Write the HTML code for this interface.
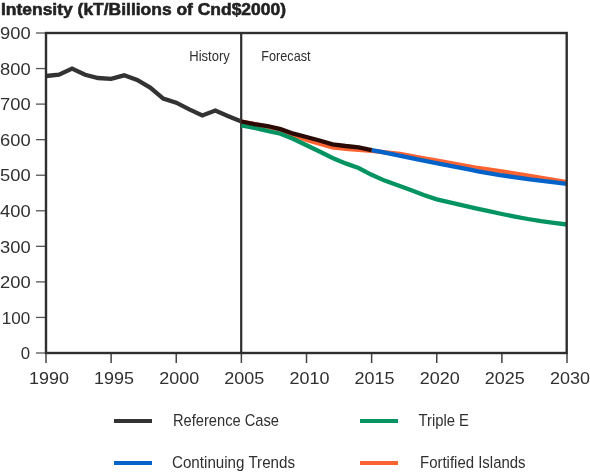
<!DOCTYPE html>
<html><head><meta charset="utf-8">
<style>
html,body{margin:0;padding:0;background:#fff;}
body{width:590px;height:473px;overflow:hidden;}
svg{display:block;will-change:transform;}
text{font-family:"Liberation Sans",sans-serif;fill:#2b2b2b;}
.lt1,.lt text{fill:#303030;}
</style></head><body>
<svg width="590" height="473" viewBox="0 0 590 473">
<text x="1" y="14.75" font-size="16.3" font-weight="bold" textLength="285" lengthAdjust="spacingAndGlyphs" style="fill:#222;stroke:#222;stroke-width:0.55">Intensity (kT/Billions of Cnd$2000)</text>
<g stroke="#555555" stroke-width="1.3"><line x1="36" y1="353.00" x2="46" y2="353.00"/><line x1="36" y1="317.44" x2="46" y2="317.44"/><line x1="36" y1="281.89" x2="46" y2="281.89"/><line x1="36" y1="246.33" x2="46" y2="246.33"/><line x1="36" y1="210.78" x2="46" y2="210.78"/><line x1="36" y1="175.22" x2="46" y2="175.22"/><line x1="36" y1="139.67" x2="46" y2="139.67"/><line x1="36" y1="104.11" x2="46" y2="104.11"/><line x1="36" y1="68.56" x2="46" y2="68.56"/><line x1="36" y1="33.00" x2="46" y2="33.00"/><line x1="46.00" y1="353" x2="46.00" y2="363" stroke="#444" stroke-width="1.5"/><line x1="111.12" y1="353" x2="111.12" y2="363" stroke="#444" stroke-width="1.5"/><line x1="176.25" y1="353" x2="176.25" y2="363" stroke="#444" stroke-width="1.5"/><line x1="241.38" y1="353" x2="241.38" y2="363" stroke="#444" stroke-width="1.5"/><line x1="306.50" y1="353" x2="306.50" y2="363" stroke="#444" stroke-width="1.5"/><line x1="371.62" y1="353" x2="371.62" y2="363" stroke="#444" stroke-width="1.5"/><line x1="436.75" y1="353" x2="436.75" y2="363" stroke="#444" stroke-width="1.5"/><line x1="501.88" y1="353" x2="501.88" y2="363" stroke="#444" stroke-width="1.5"/><line x1="567.00" y1="353" x2="567.00" y2="363" stroke="#444" stroke-width="1.5"/></g>
<g class="lt" font-size="16.8"><text x="30" y="359.20" text-anchor="end">0</text><text x="30.2" y="323.64" text-anchor="end" textLength="28.5" lengthAdjust="spacingAndGlyphs">100</text><text x="30.6" y="288.09" text-anchor="end" textLength="30.6" lengthAdjust="spacingAndGlyphs">200</text><text x="30.6" y="252.53" text-anchor="end" textLength="30.6" lengthAdjust="spacingAndGlyphs">300</text><text x="30.6" y="216.98" text-anchor="end" textLength="30.6" lengthAdjust="spacingAndGlyphs">400</text><text x="30.6" y="181.42" text-anchor="end" textLength="30.6" lengthAdjust="spacingAndGlyphs">500</text><text x="30.6" y="145.87" text-anchor="end" textLength="30.6" lengthAdjust="spacingAndGlyphs">600</text><text x="30.6" y="110.31" text-anchor="end" textLength="30.6" lengthAdjust="spacingAndGlyphs">700</text><text x="30.6" y="74.76" text-anchor="end" textLength="30.6" lengthAdjust="spacingAndGlyphs">800</text><text x="30.6" y="39.20" text-anchor="end" textLength="30.6" lengthAdjust="spacingAndGlyphs">900</text></g>
<g class="lt" font-size="16.8"><text x="49.00" y="384.2" text-anchor="middle" textLength="40" lengthAdjust="spacingAndGlyphs">1990</text><text x="114.12" y="384.2" text-anchor="middle" textLength="40" lengthAdjust="spacingAndGlyphs">1995</text><text x="179.25" y="384.2" text-anchor="middle" textLength="40" lengthAdjust="spacingAndGlyphs">2000</text><text x="244.38" y="384.2" text-anchor="middle" textLength="40" lengthAdjust="spacingAndGlyphs">2005</text><text x="309.50" y="384.2" text-anchor="middle" textLength="40" lengthAdjust="spacingAndGlyphs">2010</text><text x="374.62" y="384.2" text-anchor="middle" textLength="40" lengthAdjust="spacingAndGlyphs">2015</text><text x="439.75" y="384.2" text-anchor="middle" textLength="40" lengthAdjust="spacingAndGlyphs">2020</text><text x="504.88" y="384.2" text-anchor="middle" textLength="40" lengthAdjust="spacingAndGlyphs">2025</text><text x="570.00" y="384.2" text-anchor="middle" textLength="40" lengthAdjust="spacingAndGlyphs">2030</text></g>
<line x1="241.2" y1="33" x2="241.2" y2="353" stroke="#2e2e2e" stroke-width="2.2"/>
<text class="lt1" x="189.3" y="61.3" font-size="14.2" textLength="40.5" lengthAdjust="spacingAndGlyphs">History</text>
<text class="lt1" x="261.3" y="61.3" font-size="14.2" textLength="49.3" lengthAdjust="spacingAndGlyphs">Forecast</text>
<g fill="none" stroke-width="4.3" stroke-linejoin="miter" stroke-linecap="butt">
<path d="M241.38,121.50 L280.45,129.30 L293.48,135.30 L306.50,139.90 L319.53,143.70 L332.55,147.40 L345.57,148.80 L358.60,149.80 L371.62,150.80 L400.00,154.00 L420.00,157.70 L440.00,161.20 L470.00,166.50 L478.00,168.00 L500.00,171.10 L525.00,175.20 L567.00,182.20" stroke="#fd6331"/>
<path d="M371.62,150.20 L380.00,151.60 L420.00,159.80 L440.00,163.90 L470.00,169.60 L478.00,171.40 L500.00,175.10 L530.00,179.40 L567.00,183.90" stroke="#0463c9"/>
<path d="M241.38,125.30 L254.40,128.00 L267.43,130.80 L280.45,133.70 L293.48,139.00 L306.50,145.20 L319.53,151.50 L332.55,158.00 L345.57,163.40 L358.60,168.00 L371.62,174.80 L384.65,180.60 L397.68,185.30 L410.70,190.00 L423.73,195.00 L436.75,199.40 L449.78,202.40 L462.80,205.30 L475.82,208.30 L488.85,211.20 L501.88,214.00 L514.90,216.60 L527.92,219.00 L540.95,221.10 L553.98,222.90 L567.00,224.50" stroke="#049462"/>
<path d="M46.00,76.00 L59.02,74.70 L72.05,68.60 L85.08,74.80 L98.10,78.00 L111.12,78.80 L124.15,75.30 L137.18,80.00 L150.20,87.60 L163.23,98.60 L176.25,102.70 L189.28,109.40 L202.30,115.40 L215.33,110.60 L228.35,116.30 L241.38,121.50" stroke="#333333"/>
<path d="M241.38,121.50 L254.40,124.20 L267.43,126.00 L280.45,129.10 L293.48,133.70 L306.50,137.00 L319.53,140.50 L332.55,144.40 L345.57,146.00 L358.60,147.30 L371.62,150.20" stroke="#2a0a05"/>
</g>
<rect x="46" y="33" width="520.7" height="320" fill="none" stroke="#2e2e2e" stroke-width="2.4"/>
<g stroke-width="4">
<line x1="114" y1="421" x2="152" y2="421" stroke="#333333"/>
<line x1="360" y1="421" x2="398" y2="421" stroke="#049462"/>
<line x1="114" y1="463" x2="152" y2="463" stroke="#0463c9"/>
<line x1="360" y1="463" x2="398" y2="463" stroke="#fd6331"/>
</g>
<g class="lt" font-size="16.8">
<text x="173" y="426.4" textLength="106" lengthAdjust="spacingAndGlyphs">Reference Case</text>
<text x="418.5" y="426.4" textLength="50.5" lengthAdjust="spacingAndGlyphs">Triple E</text>
<text x="172" y="468.3" textLength="123" lengthAdjust="spacingAndGlyphs">Continuing Trends</text>
<text x="420" y="468.3" textLength="105.6" lengthAdjust="spacingAndGlyphs">Fortified Islands</text>
</g>
</svg>
</body></html>
